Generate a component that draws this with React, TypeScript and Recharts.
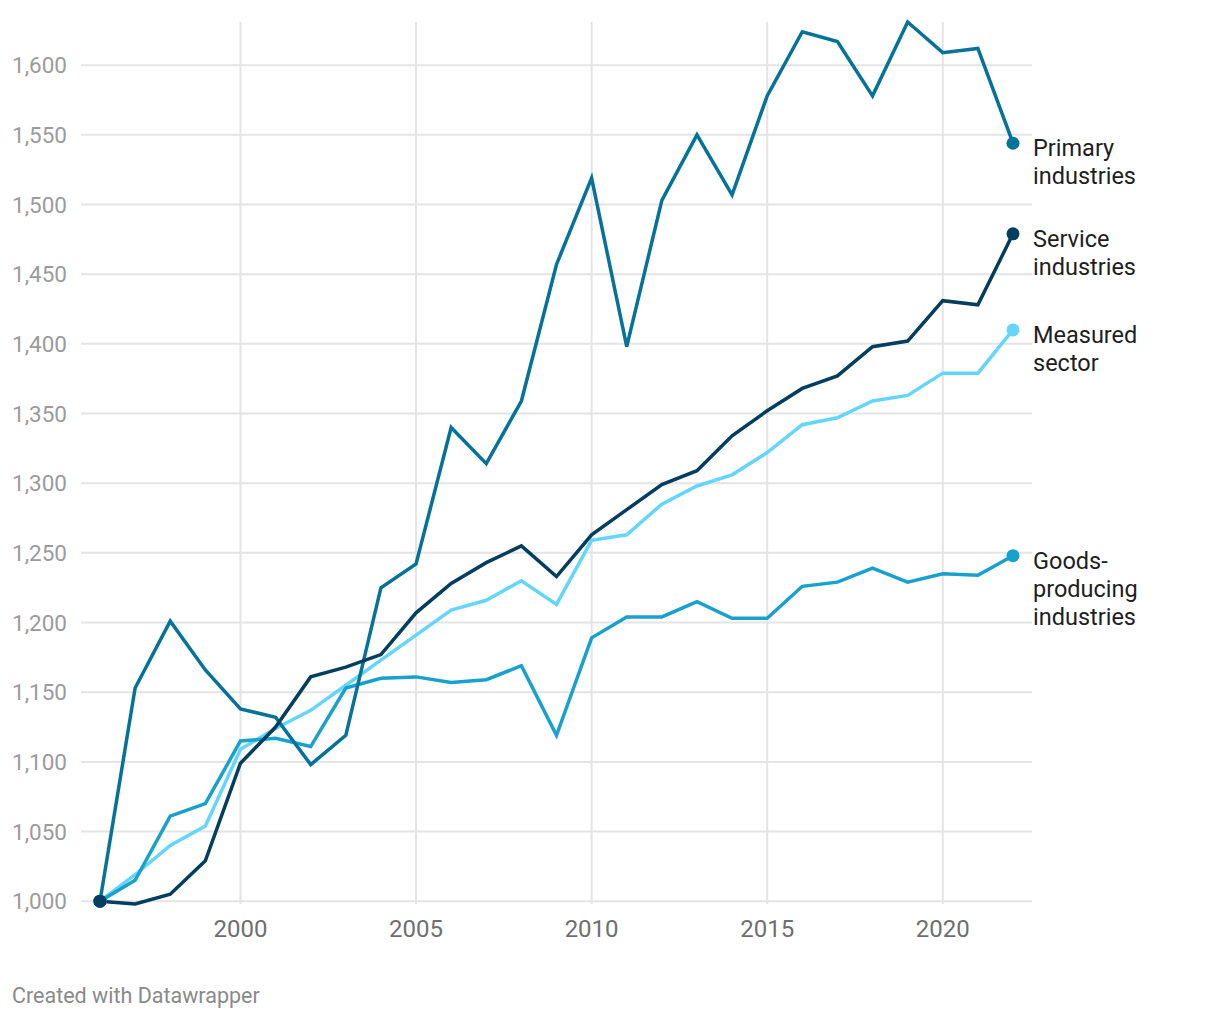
import React from "react";
import {
  LineChart,
  Line,
  XAxis,
  YAxis,
  ReferenceLine,
} from "recharts";

const years = [
  1996, 1997, 1998, 1999, 2000, 2001, 2002, 2003, 2004, 2005, 2006, 2007, 2008,
  2009, 2010, 2011, 2012, 2013, 2014, 2015, 2016, 2017, 2018, 2019, 2020, 2021,
  2022,
];

const primary = [
  1000, 1153, 1201, 1166, 1138, 1132, 1098, 1119, 1225, 1242, 1340, 1314, 1359,
  1457, 1519, 1398, 1503, 1550, 1507, 1578, 1624, 1617, 1578, 1631, 1609, 1612,
  1544,
];
const service = [
  1000, 998, 1005, 1029, 1099, 1125, 1161, 1168, 1177, 1207, 1228, 1243, 1255,
  1233, 1263, 1281, 1299, 1309, 1334, 1352, 1368, 1377, 1398, 1402, 1431, 1428,
  1479,
];
const measured = [
  1000, 1019, 1040, 1054, 1109, 1124, 1137, 1155, 1173, 1191, 1209, 1216, 1230,
  1213, 1259, 1263, 1285, 1298, 1306, 1322, 1342, 1347, 1359, 1363, 1379, 1379,
  1410,
];
const goods = [
  1000, 1015, 1061, 1070, 1115, 1117, 1111, 1153, 1160, 1161, 1157, 1159, 1169,
  1119, 1189, 1204, 1204, 1215, 1203, 1203, 1226, 1229, 1239, 1229, 1235, 1234,
  1248,
];

const xTicks = [2000, 2005, 2010, 2015, 2020];
const yTicks = [1000, 1050, 1100, 1150, 1200, 1250, 1300, 1350, 1400, 1450, 1500, 1550, 1600];

const series = [
  { key: "measured", color: "#64d6fd", label: ["Measured", "sector"] },
  { key: "goods", color: "#18a1cd", label: ["Goods-", "producing", "industries"] },
  { key: "primary", color: "#05729a", label: ["Primary", "industries"] },
  { key: "service", color: "#033d5f", label: ["Service", "industries"] },
];

const data = years.map((year, i) => ({
  year,
  primary: primary[i],
  service: service[i],
  measured: measured[i],
  goods: goods[i],
}));

const FONT = "Roboto, 'Noto Sans', sans-serif";
const GRID = "#e4e4e4";

function YTick(props: any) {
  const { y, payload } = props;
  return (
    <text
      x={12}
      y={y}
      dy="0.355em"
      textAnchor="start"
      fill="#9b9b9b"
      fontSize={22.5}
      fontFamily={FONT}
    >
      {Number(payload.value).toLocaleString("en-US")}
    </text>
  );
}

function makeDot(color: string, label: string[]) {
  return (props: any) => {
    const { cx, cy, index } = props;
    const last = years.length - 1;
    if (index !== 0 && index !== last) return <g key={`d-${index}`} />;
    return (
      <g key={`d-${index}`}>
        <circle cx={cx} cy={cy} r={6.5} fill={color} />
        {index === last && (
          <text
            x={cx + 20}
            y={cy + 13}
            fill="#1e1e1e"
            fontSize={23.5}
            fontFamily={FONT}
          >
            {label.map((t, j) => (
              <tspan key={t} x={cx + 20} dy={j === 0 ? 0 : 28}>
                {t}
              </tspan>
            ))}
          </text>
        )}
      </g>
    );
  };
}

export default function App() {
  return (
    <div
      style={{
        position: "absolute",
        left: 0,
        top: 0,
        width: 1220,
        height: 1020,
        background: "#fff",
        fontFamily: FONT,
      }}
    >
      <LineChart
        width={1220}
        height={1020}
        data={data}
        margin={{ top: 22, right: 188, left: 0, bottom: 76 }}
      >
        <XAxis
          dataKey="year"
          type="number"
          domain={[1996, 2022]}
          ticks={xTicks}
          padding={{ left: 19, right: 19 }}
          axisLine={false}
          tickLine={false}
          tickSize={0}
          tickMargin={16}
          height={40}
          tick={{ fill: "#6f6f6f", fontSize: 24, fontFamily: FONT }}
        />
        <YAxis
          type="number"
          domain={[1000, 1631]}
          ticks={yTicks}
          width={81}
          axisLine={false}
          tickLine={false}
          tick={<YTick />}
        />
        {yTicks.map((t) => (
          <ReferenceLine key={`h-${t}`} y={t} stroke={GRID} strokeWidth={2} />
        ))}
        {xTicks.map((t) => (
          <ReferenceLine key={`v-${t}`} x={t} stroke={GRID} strokeWidth={2} />
        ))}
        {series.map((s) => (
          <Line
            key={s.key}
            dataKey={s.key}
            type="linear"
            stroke={s.color}
            strokeWidth={3.5}
            dot={makeDot(s.color, s.label)}
            activeDot={false}
            isAnimationActive={false}
          />
        ))}
      </LineChart>
      <div
        style={{
          position: "absolute",
          left: 12,
          top: 983,
          fontSize: 21.5,
          color: "#8a8a8a",
          fontFamily: FONT,
          whiteSpace: "nowrap",
        }}
      >
        Created with Datawrapper
      </div>
    </div>
  );
}
